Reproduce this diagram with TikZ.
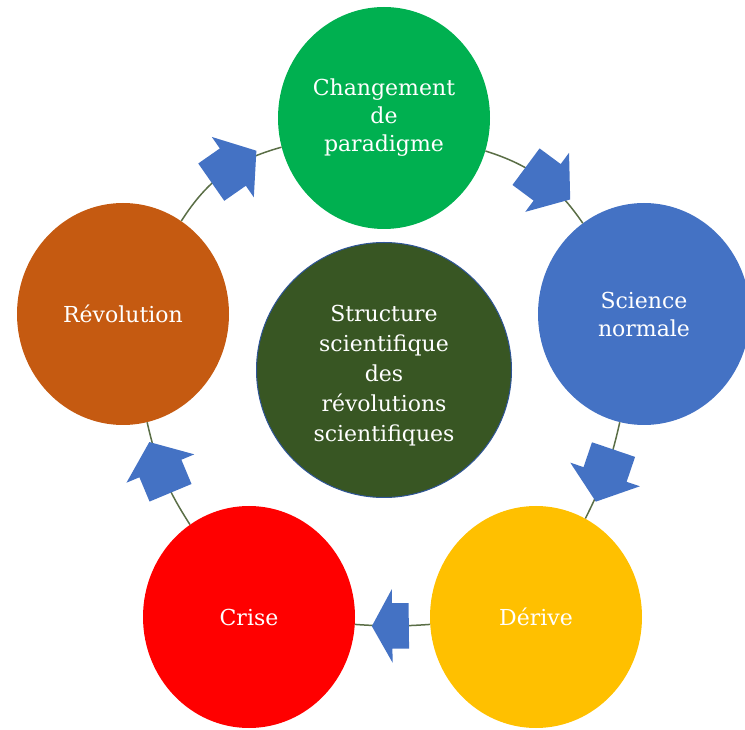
\documentclass[tikz,border=0pt]{standalone}
\usepackage{fontspec}
\setmainfont{DejaVu Serif}
\usetikzlibrary{shapes.geometric,shapes.arrows}

\definecolor{paradigmgreen}{RGB}{0,176,80}
\definecolor{normalblue}{RGB}{68,114,196}
\definecolor{derivegold}{RGB}{255,192,0}
\definecolor{crisered}{RGB}{255,0,0}
\definecolor{revorange}{RGB}{197,90,17}
\definecolor{coredark}{RGB}{56,86,35}
\definecolor{coreedge}{RGB}{47,85,151}
\definecolor{linkgray}{RGB}{90,110,70}

\begin{document}
\begin{tikzpicture}[x=1pt,y=1pt,
    stage/.style={ellipse, minimum width=212pt, minimum height=222pt, inner sep=0pt,
      align=center, text=white, font=\fontsize{22}{28}\selectfont},
    core/.style={circle, minimum size=255pt, inner sep=0pt, fill=coredark,
      draw=coreedge, line width=1pt},
    coretext/.style={align=center, text=white, yshift=-6pt,
      font=\fontsize{22}{30}\selectfont},
    link/.style={draw=linkgray, line width=1.5pt},
    turn/.style={single arrow, sloped, allow upside down, fill=normalblue, draw=none,
      inner xsep=0pt, inner ysep=22pt, minimum height=55pt, minimum width=72pt,
      single arrow head extend=14pt, single arrow tip angle=104}]
  \useasboundingbox (0,0) rectangle (745,729);

  % the five stages of the cycle
  \node[stage, fill=paradigmgreen] (shift) at (384,611) {Changement\\de\\paradigme};
  \node[stage, fill=normalblue] (normal) at (644,415) {Science\\normale};
  \node[stage, fill=derivegold] (drift) at (536,112) {Dérive};
  \node[stage, fill=crisered] (crisis) at (249,112) {Crise};
  \node[stage, fill=revorange] (revol) at (123,415) {Révolution};

  % centre
  \node[core, label={[coretext]center:{Structure\\scientifique\\des\\révolutions\\scientifiques}}]
    (kuhn) at (384,359) {};

  % links with block arrows
  \draw[link] (shift) to[bend left=19] node[turn] {} (normal);
  \draw[link] (normal) to[bend left=7] node[turn, pos=0.45] {} (drift);
  \draw[link] (drift) to[bend left=4] node[turn, pos=0.44, minimum height=37pt, single arrow tip angle=122] {} (crisis);
  \draw[link] (crisis) to[bend left=10] node[turn] {} (revol);
  \draw[link] (revol) to[bend left=21] node[turn, pos=0.53] {} (shift);
\end{tikzpicture}
\end{document}
